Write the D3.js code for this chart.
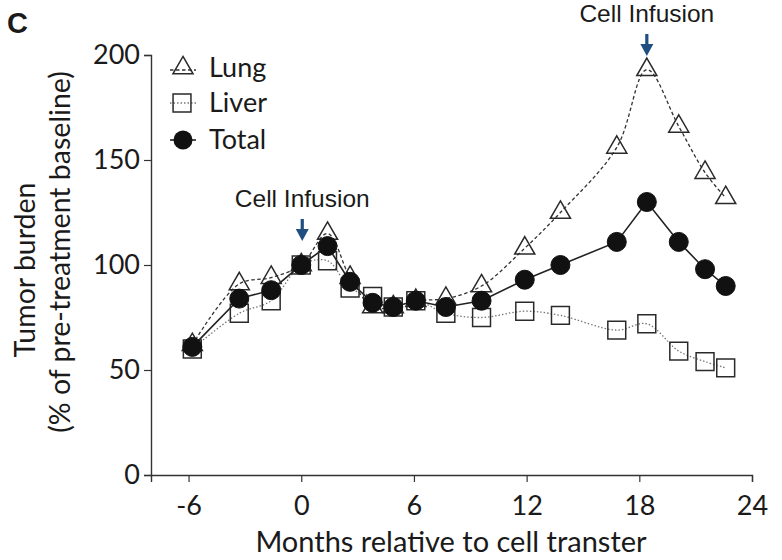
<!DOCTYPE html>
<html>
<head>
<meta charset="utf-8">
<script src="https://cdn.jsdelivr.net/npm/d3@7"></script>
<style>
  body { margin: 0; background: #fff; }
  svg { display: block; }
  text { fill: #1a1a1a; }
</style>
</head>
<body>
<svg id="chart" width="782" height="560"></svg>
<script>
// ---- data ----
const months = [-5.8, -3.3, -1.6, 0, 1.4, 2.6, 3.8, 4.9, 6.1, 7.7, 9.6, 11.9, 13.8, 16.8, 18.4, 20.1, 21.5, 22.6];
const lung   = [62, 91, 94, 100, 115, 94, 80, 80, 83, 84, 90, 108, 125, 156, 193, 166, 144, 132];
const liver  = [60, 77, 83, 100, 102, 89, 85, 80, 83, 77, 75, 78, 76, 69, 72, 59, 54, 51];
const total  = [61, 84, 88, 100, 109, 92, 82, 80, 83, 80, 83, 93, 100, 111, 130, 111, 98, 90];
const xTicks = [-6, 0, 6, 12, 18, 24];
const yTicks = [0, 50, 100, 150, 200];
const infusions = [{month: 0, value: 100}, {month: 18.4, value: 193}];
const seriesNames = ["Lung", "Liver", "Total"];

// ---- layout ----
const svg = d3.select("#chart");
const x = d3.scaleLinear().domain([-8, 24]).range([151, 752]);
const y = d3.scaleLinear().domain([0, 200]).range([475, 55]);
const font = "Lato, 'Open Sans', sans-serif";

// axes
const yAxis = svg.append("g").attr("transform", `translate(${x(-8)},0)`)
  .call(d3.axisLeft(y).tickValues(yTicks).tickSize(7).tickPadding(4).tickFormat(d => String(d)));
const xAxis = svg.append("g").attr("transform", `translate(0,${y(0)})`)
  .call(d3.axisBottom(x).tickValues(xTicks).tickSize(7).tickPadding(14).tickFormat(d => String(d)));
[xAxis, yAxis].forEach(a => {
  a.select(".domain").attr("stroke", "#333").attr("stroke-width", 1.4);
  a.selectAll(".tick line").attr("stroke", "#333").attr("stroke-width", 1.2);
  a.selectAll(".tick text").attr("font-family", font).attr("font-size", 27).attr("fill", "#1a1a1a");
});

// titles
svg.append("text").attr("x", 451).attr("y", 552).attr("text-anchor", "middle")
  .attr("font-family", font).attr("font-size", 29).text("Months relative to cell transter");
svg.append("text").attr("transform", "translate(35,270) rotate(-90)").attr("text-anchor", "middle")
  .attr("font-family", font).attr("font-size", 28.5).text("Tumor burden");
svg.append("text").attr("transform", "translate(70,252) rotate(-90)").attr("text-anchor", "middle")
  .attr("font-family", font).attr("font-size", 28.5).text("(% of pre-treatment baseline)");
svg.append("text").attr("x", 7).attr("y", 33).attr("font-family", "Arial, 'Liberation Sans', sans-serif")
  .attr("font-weight", "bold").attr("font-size", 29).text("C");

// lines
const pts = vals => months.map((m, i) => [m, vals[i]]);
const smooth = d3.line().x(d => x(d[0])).y(d => y(d[1])).curve(d3.curveCatmullRom.alpha(0.5));
const straight = d3.line().x(d => x(d[0])).y(d => y(d[1]));
svg.append("path").attr("d", smooth(pts(lung))).attr("fill", "none")
  .attr("stroke", "#333").attr("stroke-width", 1.3).attr("stroke-dasharray", "3.5,2.5");
svg.append("path").attr("d", smooth(pts(liver))).attr("fill", "none")
  .attr("stroke", "#777").attr("stroke-width", 1.3).attr("stroke-dasharray", "1.5,2");
svg.append("path").attr("d", straight(pts(total))).attr("fill", "none")
  .attr("stroke", "#222").attr("stroke-width", 1.6);

// markers
const tri = d3.symbol().type(d3.symbolTriangle).size(175);
const sq = d3.symbol().type(d3.symbolSquare).size(320);
svg.append("g").selectAll("path").data(pts(liver)).join("path")
  .attr("d", sq).attr("transform", d => `translate(${x(d[0])},${y(d[1])})`)
  .attr("fill", "none").attr("stroke", "#2a2a2a").attr("stroke-width", 1.5);
svg.append("g").selectAll("path").data(pts(lung)).join("path")
  .attr("d", tri).attr("transform", d => `translate(${x(d[0])},${y(d[1])})`)
  .attr("fill", "none").attr("stroke", "#2a2a2a").attr("stroke-width", 1.5);
svg.append("g").selectAll("circle").data(pts(total)).join("circle")
  .attr("cx", d => x(d[0])).attr("cy", d => y(d[1])).attr("r", 9.5)
  .attr("fill", "#111").attr("stroke", "#111");

// annotations
infusions.forEach((a, i) => {
  const ax = x(a.month) + (i === 0 ? 1 : 0);
  const tipY = i === 0 ? 241 : 56;
  const g = svg.append("g");
  g.append("rect").attr("x", ax - 1.6).attr("y", tipY - 22).attr("width", 3.2).attr("height", 12).attr("fill", "#1f4e80");
  g.append("path").attr("d", `M${ax - 6.5},${tipY - 12} L${ax + 6.5},${tipY - 12} L${ax},${tipY} Z`).attr("fill", "#1f4e80");
  g.append("text").attr("x", ax).attr("y", tipY - 34).attr("text-anchor", "middle")
    .attr("font-family", "Arial, 'Liberation Sans', sans-serif").attr("font-size", 24.5).text("Cell Infusion");
});

// legend
const legend = svg.append("g");
const ly = [68, 103, 140];
legend.append("line").attr("x1", 170).attr("x2", 196).attr("y1", ly[0] + 2).attr("y2", ly[0] + 2)
  .attr("stroke", "#333").attr("stroke-width", 1.3).attr("stroke-dasharray", "3.5,2.5");
legend.append("path").attr("d", tri).attr("transform", `translate(183,${ly[0]})`)
  .attr("fill", "none").attr("stroke", "#2a2a2a").attr("stroke-width", 1.5);
legend.append("line").attr("x1", 170).attr("x2", 196).attr("y1", ly[1]).attr("y2", ly[1])
  .attr("stroke", "#777").attr("stroke-width", 1.3).attr("stroke-dasharray", "1.5,2");
legend.append("path").attr("d", sq).attr("transform", `translate(182,${ly[1]})`)
  .attr("fill", "none").attr("stroke", "#2a2a2a").attr("stroke-width", 1.5);
legend.append("line").attr("x1", 170).attr("x2", 196).attr("y1", ly[2]).attr("y2", ly[2])
  .attr("stroke", "#222").attr("stroke-width", 1.6);
legend.append("circle").attr("cx", 183).attr("cy", ly[2]).attr("r", 9.5).attr("fill", "#111");
seriesNames.forEach((n, i) => {
  legend.append("text").attr("x", 209).attr("y", ly[i] + 9).attr("font-family", font)
    .attr("font-size", 27).text(n);
});
</script>
</body>
</html>
